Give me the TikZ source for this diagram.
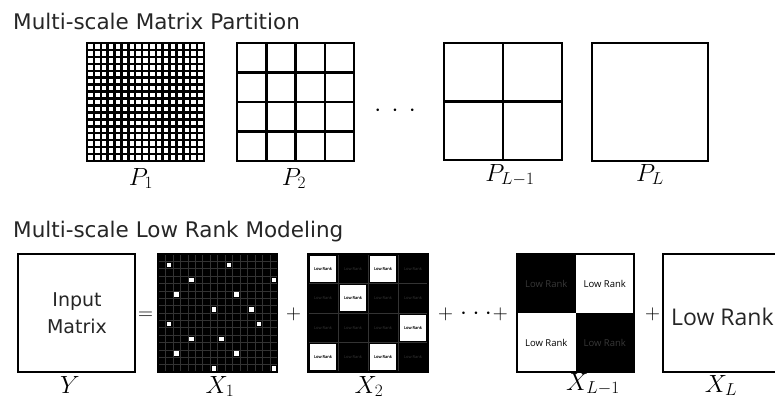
\documentclass[tikz,border=0pt]{standalone}
\usepackage{fontspec}
\newfontfamily\dvs{DejaVu Sans}
\newfontfamily\osans{Open Sans}
\begin{document}
\begin{tikzpicture}[x=1pt,y=-1pt,
  ttl/.style={font=\dvs\fontsize{21.5}{24}\selectfont, text=black!85, anchor=base west, inner sep=0pt},
  mlab/.style={font=\fontsize{23}{25}\selectfont, anchor=base, inner sep=0pt},
  opsym/.style={font=\fontsize{21}{23}\selectfont, anchor=base, inner sep=0pt},
  bigdots/.style={font=\fontsize{27}{30}\selectfont, anchor=base, inner sep=0pt},
  pline/.style={line width=2.5pt, black},
  pdense/.style={line width=2.5pt, black},
  boxline/.style={line width=2.2pt, black},
  inmat/.style={font=\dvs\fontsize{19}{22}\selectfont, text=black!85, anchor=base, inner sep=0pt},
  lrtiny/.style={font=\osans\fontsize{4}{4}\selectfont, inner sep=0pt},
  lrsmall/.style={font=\osans\fontsize{9.5}{10}\selectfont, inner sep=0pt},
  lrbig/.style={font=\osans\fontsize{23}{25}\selectfont, anchor=base west, inner sep=0pt, text=black!85},
  darktext/.style={text=black!78},
  fineGrid/.style={line width=0.7pt, black!80},
]
\useasboundingbox (0,0) rectangle (775,405);
\fill[white] (0,0) rectangle (775,405);

% ---------- titles ----------
\node[ttl] (t1) at (13,29.3) {Multi-scale Matrix Partition};
\node[ttl] (t2) at (13,237.3) {Multi-scale Low Rank Modeling};

% ---------- P1 (17x17) ----------
\foreach \k in {1,...,16}{
  \draw[pdense] ({87+\k*117/17},43) -- ({87+\k*117/17},161);
  \draw[pdense] (87,{43+\k*118/17}) -- (204,{43+\k*118/17});
}
\draw[pdense] (87,43) rectangle (204,161);
\node[mlab] (p1) at (141,185) {$P_1$};

% ---------- P2 (4x4) ----------
\foreach \k in {1,2,3}{
  \draw[pline] ({237+\k*117/4},43) -- ({237+\k*117/4},161);
  \draw[pline] (237,{43+\k*118/4}) -- (354,{43+\k*118/4});
}
\draw[pline] (237,43) rectangle (354,161);
\node[mlab] (p2) at (294,185) {$P_2$};

% dots
\node[bigdots] (dtop) at (395,116) {$\cdot\mkern3.5mu\cdot\mkern3.5mu\cdot$};

% ---------- P_{L-1} (2x2) ----------
\draw[pline] (503,43) -- (503,160);
\draw[pline] (444,101.5) -- (562,101.5);
\draw[pline] (444,43) rectangle (562,160);
\node[mlab] (pl1) at (510,181) {$P_{L-1}$};

% ---------- P_L ----------
\draw[pline] (592,43) rectangle (708,161);
\node[mlab] (pl) at (650,181) {$P_L$};

% ---------- Y ----------
\draw[boxline] (18,254) rectangle (135,372);
\node[inmat] (in1) at (77,306.7) {Input};
\node[inmat] (in2) at (77,333) {Matrix};
\node[mlab] (ly) at (70,393) {$Y$};

\node[opsym] (eq) at (145.5,319.5) {$=$};

% ---------- X1 (sparse) ----------
\fill[black] (158,254) rectangle (277.5,372);
\foreach \k in {1,...,15}{
  \draw[fineGrid] ({158+\k*119.5/16},255) -- ({158+\k*119.5/16},371);
  \draw[fineGrid] (159,{254+\k*118/16}) -- (276.5,{254+\k*118/16});
}
\foreach \r/\c in {1/1,1/9,3/4,3/15,5/2,5/10,7/7,7/12,9/1,9/13,11/4,11/8,13/2,13/10,15/7,15/15}{
  \fill[white] ({158+(\c+0.5)*119.5/16-2.2},{254+(\r+0.5)*118/16-2.2}) rectangle ++(4.4,4.4);
}
\draw[line width=1.4pt] (158,254) rectangle (277.5,372);
\node[mlab] (lx1) at (220,393) {$X_1$};

\node[opsym] (pl1op) at (293.5,319.5) {$+$};

% ---------- X2 (4x4 blocks) ----------
\fill[black] (308,254) rectangle (428,372);
\foreach \k in {1,2,3}{
  \draw[fineGrid] ({308+\k*30},255) -- ({308+\k*30},371);
  \draw[fineGrid] (309,{254+\k*29.5}) -- (427,{254+\k*29.5});
}
\foreach \r/\c in {0/0,0/2,1/1,2/3,3/0,3/2}{
  \fill[white] ({308+\c*30+1.6},{254+\r*29.5+1.6}) rectangle ++(26.8,26.3);
}
\foreach \r in {0,...,3}{
  \foreach \c in {0,...,3}{
    \node[lrtiny,darktext] (x2t\r\c) at ({308+\c*30+15},{254+\r*29.5+14.75}) {Low Rank};
  }
}
\foreach \r/\c in {0/0,0/2,1/1,2/3,3/0,3/2}{
  \node[lrtiny,text=black] (x2w\r\c) at ({308+\c*30+15},{254+\r*29.5+14.75}) {Low Rank};
}
\draw[line width=1.4pt] (308,254) rectangle (428,372);
\node[mlab] (lx2) at (369,393) {$X_2$};

\node[opsym] (dotsop) at (473,319.5) {$+$\hspace{7pt}{\fontsize{27}{30}\selectfont$\cdot$\hspace{5.5pt}$\cdot$\hspace{5.5pt}$\cdot$}\hspace{1pt}$+$};

% ---------- X_{L-1} (2x2 blocks) ----------
\fill[black] (517,254) rectangle (575.5,313);
\fill[black] (575.5,313) rectangle (634,372);
\node[lrsmall,darktext] (xa) at (546.25,283.5) {Low Rank};
\node[lrsmall] (xb) at (604.75,283.5) {Low Rank};
\node[lrsmall] (xc) at (546.25,342.5) {Low Rank};
\node[lrsmall,darktext] (xd) at (604.75,342.5) {Low Rank};
\draw[boxline] (517,254) rectangle (634,372);
\node[mlab] (lxl1) at (593,390) {$X_{L-1}$};

\node[opsym] (plop) at (652.5,319.5) {$+$};

% ---------- X_L ----------
\begin{scope}
\clip (0,0) rectangle (775,405);
\draw[boxline] (663,254) rectangle (800,372);
\node[lrbig] (xlt) at (671,325) {Low Rank};
\end{scope}
\node[mlab] (lxl) at (721,392) {$X_L$};
\end{tikzpicture}
\end{document}
